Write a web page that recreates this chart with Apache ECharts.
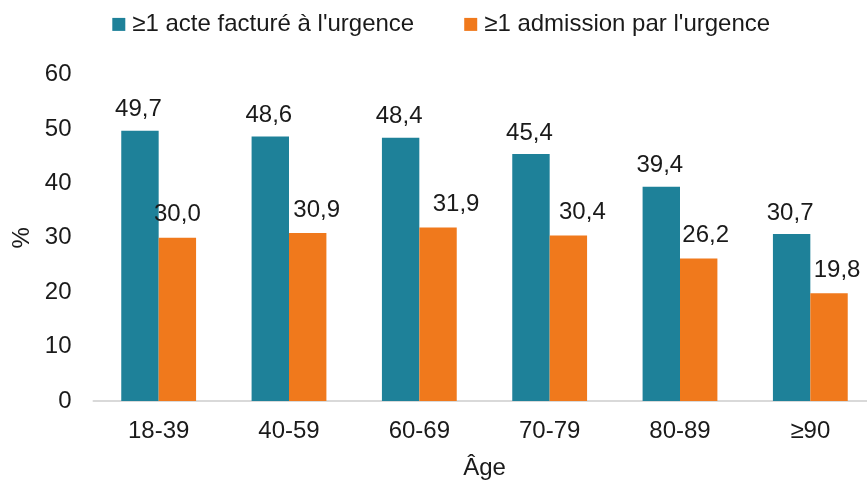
<!DOCTYPE html>
<html><head><meta charset="utf-8">
<script src="https://cdn.jsdelivr.net/npm/echarts@6/dist/echarts.min.js"></script>
<style>html,body{margin:0;padding:0;background:#fff}#c{width:867px;height:482px}</style>
</head><body><div id="c"></div>
<script>
const categories = ['18-39','40-59','60-69','70-79','80-89','≥90'];
const seriesNames = ["≥1 acte facturé à l'urgence", "≥1 admission par l'urgence"];
const acteValues = [49.7, 48.6, 48.4, 45.4, 39.4, 30.7];
const admissionValues = [30.0, 30.9, 31.9, 30.4, 26.2, 19.8];
const yTicks = [0, 10, 20, 30, 40, 50, 60];

// label placement tweaks (styling only, kept apart from the values)
const admissionLabelDx = [0, 9, 18, 14, 7, 8];

const font = 'Liberation Sans, Arial, Helvetica, sans-serif';
const txt = '#1a1a1a';
const fs = 24;
const fmt = p => p.value.toFixed(1).replace('.', ',');
const chart = echarts.init(document.getElementById('c'), null, {renderer:'canvas'});
chart.setOption({
  animation: false,
  textStyle: {fontFamily: font},
  legend: {
    top: 7.4, left: 107.3,
    itemWidth: 13, itemHeight: 13, itemGap: 50,
    textStyle: {fontSize: fs, color: txt, fontFamily: font, padding: [0,0,0,2]},
    icon: 'rect',
    data: seriesNames
  },
  grid: {left: 93.5, top: 74.6, width: 782, height: 326.4, containLabel: false, outerBoundsMode: 'none'},
  xAxis: {
    type: 'category', data: categories,
    name: 'Âge', nameLocation: 'middle', nameGap: 55,
    nameTextStyle: {fontSize: fs, color: txt, fontFamily: font},
    axisLine: {lineStyle: {color: '#d9d9d9', width: 2}},
    axisTick: {show: false},
    axisLabel: {fontSize: fs, color: txt, margin: 18, fontFamily: font}
  },
  yAxis: {
    type: 'value', min: yTicks[0], max: yTicks[yTicks.length-1], interval: 10,
    name: '%', nameLocation: 'middle', nameGap: 57, nameRotate: 90,
    nameTextStyle: {fontSize: fs, color: txt, fontFamily: font},
    splitLine: {show: false}, axisLine: {show: false}, axisTick: {show: false},
    axisLabel: {fontSize: fs, color: txt, margin: 22, fontFamily: font}
  },
  series: [
    {name: seriesNames[0], type: 'bar', data: acteValues, barGap: '0%', barCategoryGap: '42.6%',
     itemStyle: {color: '#1e8199'},
     label: {show: true, position: 'top', distance: 9, offset: [-1.5, 0], fontSize: fs, color: txt, fontFamily: font, formatter: fmt}},
    {name: seriesNames[1], type: 'bar', barGap: '0%', barCategoryGap: '42.6%',
     data: admissionValues.map((v, i) => ({value: v, label: {offset: [admissionLabelDx[i], 0]}})),
     itemStyle: {color: '#f0791c'},
     label: {show: true, position: 'top', distance: 11, fontSize: fs, color: txt, fontFamily: font, formatter: fmt}}
  ]
});
</script></body></html>
